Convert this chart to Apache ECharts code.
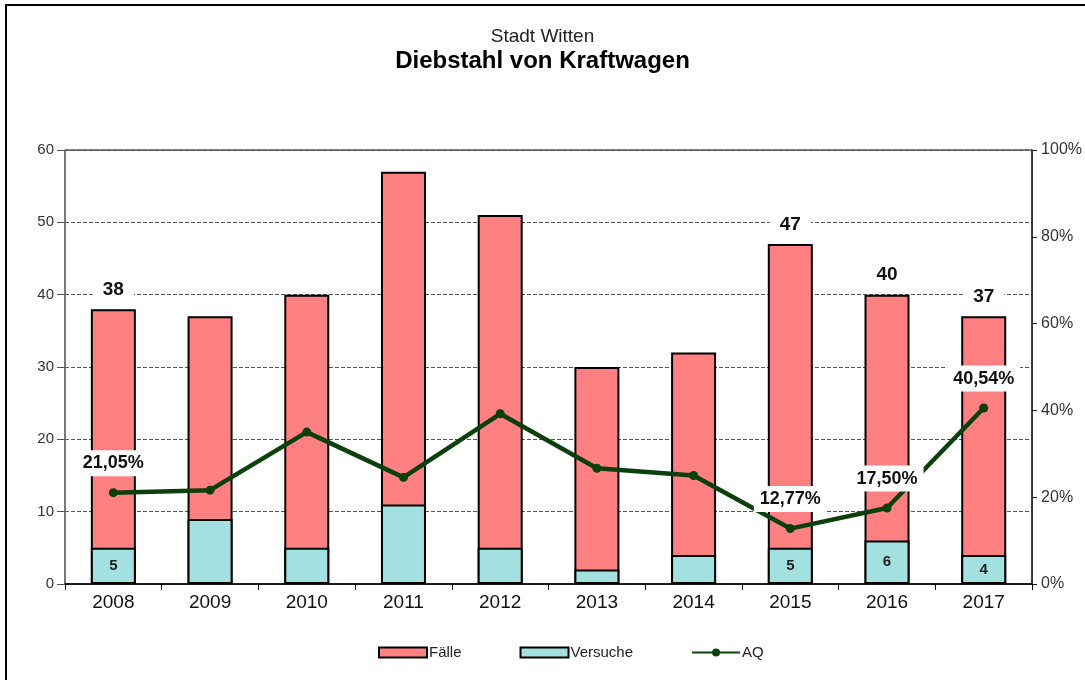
<!DOCTYPE html>
<html>
<head>
<meta charset="utf-8">
<script src="https://cdn.jsdelivr.net/npm/echarts@6/dist/echarts.min.js"></script>
<style>
  html, body { margin: 0; padding: 0; background: #fff; }
  #wrap { position: relative; width: 1085px; height: 680px; overflow: hidden; }
  #chart { width: 1085px; height: 680px; }
  #frame { position: absolute; left: 5px; top: 4px; width: 1200px; height: 800px; border-top: 2px solid #000; border-left: 2px solid #000; pointer-events: none; }
</style>
</head>
<body>
<div id="wrap">
  <div id="chart"></div>
  <div id="frame"></div>
</div>
<script>
// Daten aus der Grafik
const years = ['2008', '2009', '2010', '2011', '2012', '2013', '2014', '2015', '2016', '2017'];
const faelle = [38, 37, 40, 57, 51, 30, 32, 47, 40, 37];
const versuche = [5, 9, 5, 11, 5, 2, 4, 5, 6, 4];
const aq = [21.05, 21.62, 35.00, 24.56, 39.22, 26.67, 25.00, 12.77, 17.50, 40.54];
const labelledYears = ['2008', '2015', '2016', '2017'];

const font = 'Liberation Sans, Arial, sans-serif';

// nur ausgewählte Jahre bekommen eine Beschriftung
function withLabels(values) {
    return values.map((v, i) => ({
        value: v,
        label: { show: labelledYears.indexOf(years[i]) >= 0 }
    }));
}

let chart = echarts.init(document.getElementById('chart'));
let option = {
    textStyle: { fontFamily: font },
    title: [
        { text: 'Stadt Witten', left: 'center', top: 22, textStyle: { fontSize: 19, fontWeight: 'normal', color: '#222', fontFamily: font } },
        { text: 'Diebstahl von Kraftwagen', left: 'center', top: 44, textStyle: { fontSize: 24, fontWeight: 'bold', color: '#000', fontFamily: font } }
    ],
    legend: {
        bottom: 15,
        left: 373,
        itemWidth: 48,
        itemHeight: 10,
        itemGap: 58,
        textStyle: { fontSize: 15, color: '#222', fontFamily: font, padding: [0, 0, 0, -3] },
        data: [
            { name: 'Fälle', icon: 'rect' },
            { name: 'Versuche', icon: 'rect' },
            { name: 'AQ' }
        ]
    },
    grid: { left: 65, right: 51, top: 150, bottom: 96, show: true, borderColor: '#000', borderWidth: 1 },
    xAxis: {
        type: 'category',
        data: years,
        axisLine: { lineStyle: { color: '#000', width: 1.5 } },
        axisTick: { show: true, length: 6, lineStyle: { color: '#000' } },
        axisLabel: { fontSize: 19, color: '#111', margin: 9 }
    },
    yAxis: [
        {
            type: 'value', min: 0, max: 60, interval: 10,
            axisLine: { show: true, lineStyle: { color: '#777', width: 1.5 } },
            axisTick: { show: true, length: 8, lineStyle: { color: '#555' } },
            axisLabel: { fontSize: 15, color: '#333', margin: 11 },
            splitLine: { lineStyle: { color: '#555', type: [4, 2], width: 1 } }
        },
        {
            type: 'value', min: 0, max: 100, interval: 20,
            axisLine: { show: true, lineStyle: { color: '#222', width: 1.5 } },
            axisTick: { show: true, length: 5, lineStyle: { color: '#222' } },
            axisLabel: { fontSize: 16, color: '#333', margin: 9, formatter: '{value}%' },
            splitLine: { show: false }
        }
    ],
    series: [
        {
            name: 'Fälle',
            type: 'bar',
            barWidth: 45,
            barGap: '-100%',
            data: withLabels(faelle),
            itemStyle: { color: '#FF8080', borderColor: '#000', borderWidth: 2 },
            label: {
                position: 'top', distance: 8, fontSize: 19, fontWeight: 'bold', color: '#111',
                backgroundColor: '#fff', padding: [2, 10]
            },
            z: 2
        },
        {
            name: 'Versuche',
            type: 'bar',
            barWidth: 45,
            barGap: '-100%',
            data: withLabels(versuche),
            itemStyle: { color: '#A3E0E0', borderColor: '#000', borderWidth: 2 },
            label: { position: 'inside', fontSize: 15, fontWeight: 'bold', color: '#222' },
            z: 3
        },
        {
            name: 'AQ',
            type: 'line',
            yAxisIndex: 1,
            data: withLabels(aq),
            symbol: 'circle',
            symbolSize: 9,
            lineStyle: { color: '#0B3F0B', width: 4.5 },
            itemStyle: { color: '#0B3F0B' },
            label: {
                position: 'top', distance: 12, fontSize: 18, fontWeight: 'bold', color: '#111',
                backgroundColor: '#fff', padding: [4, 6],
                formatter: p => p.value.toFixed(2).replace('.', ',') + '%'
            },
            z: 5
        }
    ]
};
chart.setOption(option);
</script>
</body>
</html>
